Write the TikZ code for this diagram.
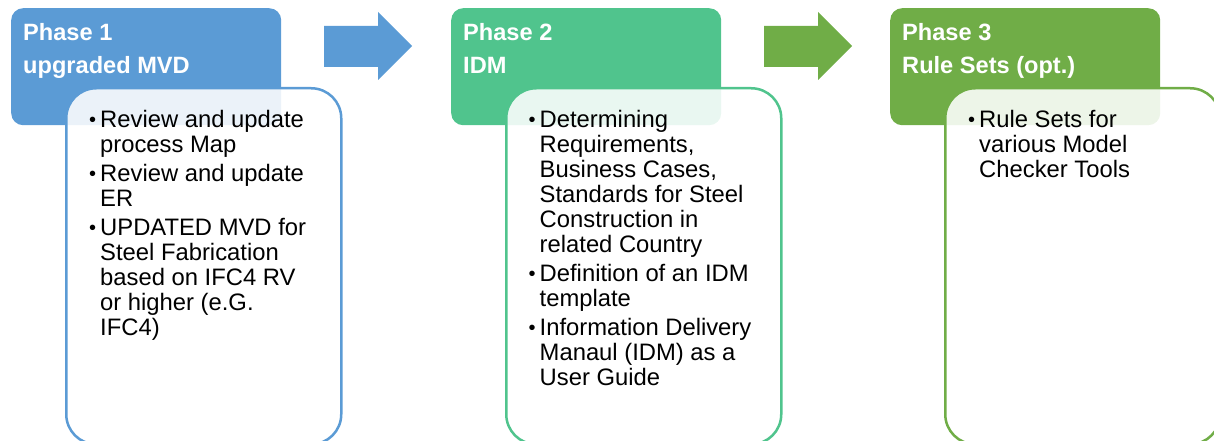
\documentclass[tikz,border=0pt]{standalone}
\usepackage{fontspec}
\setmainfont{Liberation Sans}
\definecolor{pblue}{HTML}{5B9BD5}
\definecolor{pteal}{HTML}{50C48D}
\definecolor{pgreen}{HTML}{70AD47}
\tikzset{
  header/.style={fill=#1, draw=none, rounded corners=12pt, anchor=north west,
    minimum width=270pt, minimum height=117pt, inner sep=0pt},
  bodybox/.style={draw=#1, line width=2.5pt, fill=white, fill opacity=0.88,
    rounded corners=30pt, anchor=north west, minimum width=275pt,
    minimum height=356pt, inner sep=0pt},
  title/.style={anchor=north west, inner sep=0pt, text=white,
    font=\fontsize{23.6}{33}\selectfont\bfseries, align=left},
  items/.style={anchor=north west, inner sep=0pt, text=black,
    font=\fontsize{23.8}{25}\selectfont, align=left},
  flowarrow/.style={fill=#1, draw=none},
}
\newcommand{\bul}{\llap{\fontsize{20}{20}\selectfont\raisebox{0.5pt}{\textbullet}\hspace{4pt}}}
\begin{document}
\begin{tikzpicture}[x=1pt,y=-1pt]
\useasboundingbox (0,0) rectangle (1214,441);
% Phase 1
\node[header=pblue] (h1) at (11,8) {};
\node[bodybox=pblue] (b1) at (65,87) {};
\node[title] (t1) at (23,16.9) {\strut Phase 1\\upgraded MVD};
\node[items] (i1) at (100,109.5) {\strut\bul Review and update\\process Map\\[4pt]
\bul Review and update\\ER\\[4pt]
\bul UPDATED MVD for\\Steel Fabrication\\based on IFC4 RV\\or higher (e.G.\\IFC4)};
% Arrow 1
\path[flowarrow=pblue] (324,26) -- (378,26) -- (378,12) -- (412,46) -- (378,80) -- (378,67) -- (324,67) -- cycle;
% Phase 2
\node[header=pteal] (h2) at (451,8) {};
\node[bodybox=pteal] (b2) at (505,87) {};
\node[title] (t2) at (463,16.9) {\strut Phase 2\\IDM};
\node[items] (i2) at (539.5,109.5) {\strut\bul Determining\\Requirements,\\Business Cases,\\Standards for Steel\\Construction in\\related Country\\[4pt]
\bul Definition of an IDM\\template\\[4pt]
\bul Information Delivery\\Manaul (IDM) as a\\User Guide};
% Arrow 2
\path[flowarrow=pgreen] (764,26) -- (818,26) -- (818,12) -- (852,46) -- (818,80) -- (818,67) -- (764,67) -- cycle;
% Phase 3
\node[header=pgreen] (h3) at (890,8) {};
\node[bodybox=pgreen] (b3) at (944,87) {};
\node[title] (t3) at (902,16.9) {\strut Phase 3\\Rule Sets (opt.)};
\node[items] (i3) at (979,109.5) {\strut\bul Rule Sets for\\various Model\\Checker Tools};
\end{tikzpicture}
\end{document}
